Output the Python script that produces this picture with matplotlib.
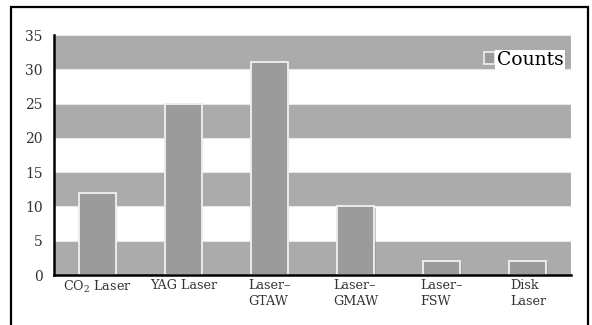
import matplotlib.pyplot as plt
import matplotlib.transforms as mtransforms
from matplotlib.patches import Rectangle, Patch

categories = ['CO$_2$ Laser', 'YAG Laser', 'Laser\u2013\nGTAW', 'Laser\u2013\nGMAW',
              'Laser\u2013\nFSW', 'Disk\nLaser']
counts = [12, 25, 31, 10, 2, 2]
yticks = [0, 5, 10, 15, 20, 25, 30, 35]

plt.rcParams['font.family'] = 'DejaVu Serif'
plt.rcParams['mathtext.fontset'] = 'dejavuserif'

fig = plt.figure(figsize=(5.92, 3.25), dpi=100)
ax = fig.add_axes([0.0912, 0.1538, 0.8733, 0.7385])

# outer frame
fig.patches.append(Rectangle((11 / 592, -0.05), 577 / 592, 1.05 - 7 / 325,
                             transform=fig.transFigure, fill=False,
                             edgecolor='black', linewidth=1.6))

# alternating grey bands
for lo in range(0, 35, 10):
    ax.axhspan(lo, lo + 5, facecolor='#ababab', edgecolor='#e6e6e6', linewidth=0.8, zorder=0)

x = list(range(len(categories)))
# soft shadow behind bars
shadow = mtransforms.offset_copy(ax.transData, fig=fig, x=1.5, y=-1.5, units='dots')
ax.bar(x, counts, width=0.43, color='#8c8c8c', alpha=0.5, transform=shadow, zorder=1)
ax.bar(x, counts, width=0.43, color='#9b9b9b', edgecolor='#ececec', linewidth=1.4, zorder=2)

ax.set_xlim(-0.5, 5.5)
ax.set_ylim(0, 35)
ax.set_yticks(yticks)
ax.set_xticks(x)
ax.set_xticklabels(categories, fontsize=9.2, color='#333333', ha='center', multialignment='left',
                   linespacing=1.3)
for lbl in ax.get_xticklabels():
    lbl.set_transform(lbl.get_transform() + mtransforms.ScaledTranslation(-8 / 100, 0, fig.dpi_scale_trans))
ax.tick_params(axis='y', labelsize=10, colors='#333333', length=0, pad=8)
ax.tick_params(axis='x', length=0, pad=3)

for side in ['top', 'right']:
    ax.spines[side].set_visible(False)
ax.spines['left'].set_linewidth(1.8)
ax.spines['bottom'].set_linewidth(1.8)

handle = Patch(facecolor='#9b9b9b', edgecolor='#f0f0f0', linewidth=1.2)
leg = ax.legend([handle], ['Counts'], loc='upper right', bbox_to_anchor=(1.0, 0.965),
                frameon=False, fontsize=13.5, handlelength=0.6, handleheight=0.6,
                handletextpad=0.1, borderaxespad=0)
for t in leg.get_texts():
    t.set_bbox(dict(facecolor='white', edgecolor='none', pad=1))

plt.savefig('out.png', dpi=100)
